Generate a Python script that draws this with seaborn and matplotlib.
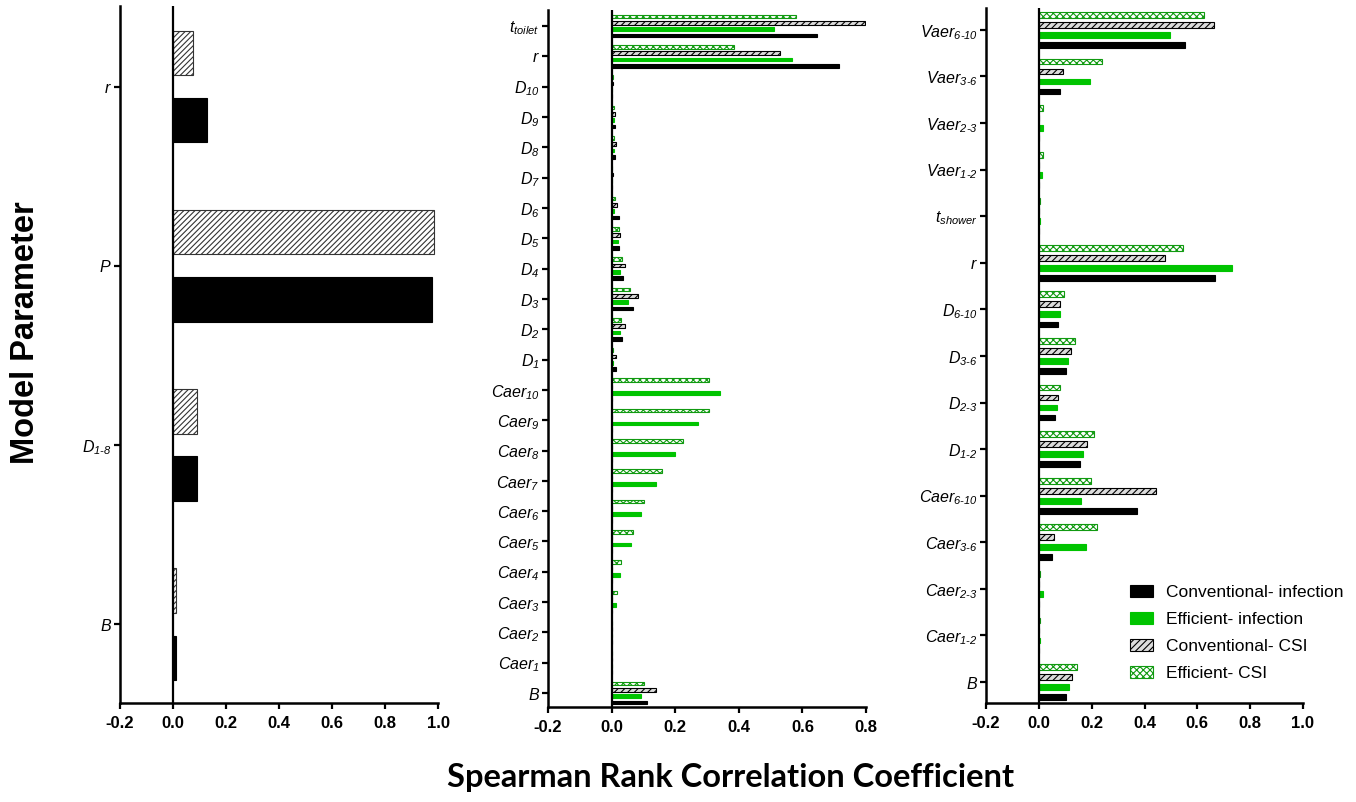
import matplotlib
matplotlib.use("Agg")
import matplotlib.pyplot as plt
import matplotlib.patches as mpatches
import seaborn as sns
import pandas as pd

# ---------------- data ----------------
series_names = ["Efficient- CSI", "Conventional- CSI", "Efficient- infection", "Conventional- infection"]

left_params = ["r", "P", "D1-8", "B"]
left_labels = [r"$r$", r"$P$", r"$D_{1\text{-}8}$", r"$B$"]
left_conv_inf = [0.128, 0.977, 0.090, 0.010]
left_conv_csi = [0.075, 0.985, 0.090, 0.012]

mid_params = ["t_toilet", "r", "D10", "D9", "D8", "D7", "D6", "D5", "D4", "D3", "D2", "D1",
              "Caer10", "Caer9", "Caer8", "Caer7", "Caer6", "Caer5", "Caer4", "Caer3", "Caer2", "Caer1", "B"]
mid_labels = [r"$t_{toilet}$", r"$r$", r"$D_{10}$", r"$D_{9}$", r"$D_{8}$", r"$D_{7}$", r"$D_{6}$",
              r"$D_{5}$", r"$D_{4}$", r"$D_{3}$", r"$D_{2}$", r"$D_{1}$",
              r"$Caer_{10}$", r"$Caer_{9}$", r"$Caer_{8}$", r"$Caer_{7}$", r"$Caer_{6}$", r"$Caer_{5}$",
              r"$Caer_{4}$", r"$Caer_{3}$", r"$Caer_{2}$", r"$Caer_{1}$", r"$B$"]
mid_conv_inf = [0.646, 0.715, 0.002, 0.010, 0.011, 0.000, 0.022, 0.022, 0.035, 0.066, 0.032, 0.013,
                0, 0, 0, 0, 0, 0, 0, 0, 0, 0, 0.112]
mid_eff_inf = [0.512, 0.566, 0.001, 0.008, 0.006, 0.000, 0.009, 0.020, 0.027, 0.050, 0.025, 0.003,
               0.342, 0.272, 0.198, 0.139, 0.092, 0.061, 0.027, 0.013, 0, 0, 0.092]
mid_conv_csi = [0.797, 0.530, 0.004, 0.011, 0.013, 0.003, 0.016, 0.027, 0.043, 0.082, 0.041, 0.014,
                0, 0, 0, 0, 0, 0, 0, 0, 0, 0, 0.139]
mid_eff_csi = [0.580, 0.384, 0.004, 0.008, 0.007, 0.000, 0.010, 0.022, 0.032, 0.058, 0.029, 0.003,
               0.305, 0.306, 0.224, 0.158, 0.102, 0.068, 0.029, 0.016, 0, 0, 0.102]

right_params = ["Vaer6-10", "Vaer3-6", "Vaer2-3", "Vaer1-2", "t_shower", "r", "D6-10", "D3-6",
                "D2-3", "D1-2", "Caer6-10", "Caer3-6", "Caer2-3", "Caer1-2", "B"]
right_labels = [r"$Vaer_{6\text{-}10}$", r"$Vaer_{3\text{-}6}$", r"$Vaer_{2\text{-}3}$", r"$Vaer_{1\text{-}2}$",
                r"$t_{shower}$", r"$r$", r"$D_{6\text{-}10}$", r"$D_{3\text{-}6}$", r"$D_{2\text{-}3}$",
                r"$D_{1\text{-}2}$", r"$Caer_{6\text{-}10}$", r"$Caer_{3\text{-}6}$", r"$Caer_{2\text{-}3}$",
                r"$Caer_{1\text{-}2}$", r"$B$"]
right_conv_inf = [0.552, 0.079, 0, 0, 0, 0.667, 0.072, 0.103, 0.062, 0.155, 0.371, 0.049, 0, 0, 0.102]
right_eff_inf = [0.498, 0.193, 0.014, 0.011, 0.004, 0.733, 0.079, 0.112, 0.068, 0.168, 0.160, 0.178, 0.017, 0.003, 0.116]
right_conv_csi = [0.663, 0.092, 0, 0, 0, 0.477, 0.082, 0.120, 0.071, 0.182, 0.443, 0.057, 0, 0, 0.125]
right_eff_csi = [0.627, 0.238, 0.014, 0.014, 0.005, 0.545, 0.096, 0.136, 0.081, 0.207, 0.197, 0.221, 0.004, 0.004, 0.144]

x_ticks = [-0.2, 0.0, 0.2, 0.4, 0.6, 0.8, 1.0]
x_ticks_mid = [-0.2, 0.0, 0.2, 0.4, 0.6, 0.8]

# ---------------- style ----------------
sns.set_style("ticks")
plt.rcParams["font.family"] = ["Liberation Sans", "DejaVu Sans"]
plt.rcParams["mathtext.fontset"] = "custom"
plt.rcParams["mathtext.it"] = "Liberation Sans:italic"
plt.rcParams["mathtext.rm"] = "Liberation Sans:italic"
plt.rcParams["mathtext.default"] = "it"
plt.rcParams["hatch.linewidth"] = 0.8
for key in ["text.color", "axes.labelcolor", "xtick.color", "ytick.color", "axes.edgecolor"]:
    plt.rcParams[key] = "black"

GREEN = "#00c400"
GREEN_DARK = "#119a11"

styles = {
    "Conventional- infection": dict(facecolor="black", edgecolor="black", hatch=None),
    "Efficient- infection": dict(facecolor=GREEN, edgecolor=GREEN, hatch=None),
    "Conventional- CSI": dict(facecolor="#dcdcdc", edgecolor="black", hatch="/////"),
    "Efficient- CSI": dict(facecolor="white", edgecolor=GREEN_DARK, hatch="xxxxx"),
}
palette = {k: v["facecolor"] for k, v in styles.items()}


def long_df(params, cols):
    rows = []
    for name, vals in cols.items():
        for p, v in zip(params, vals):
            rows.append({"param": p, "series": name, "value": v})
    return pd.DataFrame(rows)


fig = plt.figure(figsize=(13.56, 8.02), dpi=100)
W, H = 1356, 802


def add_ax(x0, x1, ytop, ybot):
    return fig.add_axes([x0 / W, 1 - ybot / H, (x1 - x0) / W, (ybot - ytop) / H])


ax_l = add_ax(120, 438, 6, 703)
ax_m = add_ax(548, 866, 10, 707)
ax_r = add_ax(986, 1303, 8, 703)


def draw(ax, params, labels, cols, hue_order, width, gap, ylim, xlim, xticks, left_style=False):
    df = long_df(params, cols)
    sns.barplot(data=df, x="value", y="param", hue="series", order=params, hue_order=hue_order,
                orient="h", palette=palette, saturation=1, width=width, gap=gap,
                errorbar=None, legend=False, ax=ax)
    for cont, name in zip(ax.containers, hue_order):
        st = styles[name]
        for bar in cont:
            if left_style and name == "Conventional- CSI":
                bar.set_facecolor("white")
                bar.set_edgecolor("#333333")
                bar.set_hatch("//////")
            else:
                bar.set_facecolor(st["facecolor"])
                bar.set_edgecolor(st["edgecolor"])
                if st["hatch"]:
                    bar.set_hatch(st["hatch"])
            bar.set_linewidth(0.8)
    ax.axvline(0, color="black", lw=1.6, zorder=5)
    ax.set_ylim(*ylim)
    ax.set_xlim(*xlim)
    ax.set_xticks(xticks)
    ax.set_xticklabels([f"{t:.1f}" for t in xticks], fontsize=12, fontweight="bold")
    ax.set_yticks(range(len(params)))
    ax.set_yticklabels(labels, fontsize=11.5)
    ax.set_xlabel("")
    ax.set_ylabel("")
    for s in ["top", "right"]:
        ax.spines[s].set_visible(False)
    for s in ["left", "bottom"]:
        ax.spines[s].set_linewidth(1.8)
    ax.tick_params(axis="both", length=4, width=1.6, direction="out", colors="black")
    ax.tick_params(axis="y", pad=2)
    ax.tick_params(axis="x", pad=5)


draw(ax_l, left_params, left_labels,
     {"Conventional- CSI": left_conv_csi, "Conventional- infection": left_conv_inf},
     ["Conventional- CSI", "Conventional- infection"], 0.75, 0.34, (3.44, -0.45), (-0.2, 1.0), x_ticks,
     left_style=True)

draw(ax_m, mid_params, mid_labels,
     {"Efficient- CSI": mid_eff_csi, "Conventional- CSI": mid_conv_csi,
      "Efficient- infection": mid_eff_inf, "Conventional- infection": mid_conv_inf},
     series_names, 0.84, 0.42, (22.46, -0.53), (-0.2, 0.8), x_ticks_mid)

draw(ax_r, right_params, right_labels,
     {"Efficient- CSI": right_eff_csi, "Conventional- CSI": right_conv_csi,
      "Efficient- infection": right_eff_inf, "Conventional- infection": right_conv_inf},
     series_names, 0.86, 0.42, (14.45, -0.47), (-0.2, 1.0), x_ticks)

# legend
leg_order = ["Conventional- infection", "Efficient- infection", "Conventional- CSI", "Efficient- CSI"]
handles = [mpatches.Patch(facecolor=styles[n]["facecolor"], edgecolor=styles[n]["edgecolor"],
                          hatch=styles[n]["hatch"], linewidth=0.8, label=n) for n in leg_order]
fig.legend(handles=handles, loc="upper left", bbox_to_anchor=(1130 / W, 1 - 585 / H),
           frameon=False, fontsize=12.5, handlelength=1.3, handleheight=0.7,
           handletextpad=0.8, labelspacing=0.68, borderpad=0, borderaxespad=0)

# axis titles
fig.text(26 / W, 1 - 333 / H, "Model Parameter", rotation=90, ha="center", va="center",
         fontsize=23.5, fontweight="bold", color="black", family=["Liberation Sans", "DejaVu Sans"])
xt = fig.text(731 / W, 1 - 778 / H, "Spearman Rank Correlation Coefficient", ha="center", va="center",
              fontsize=22, fontweight="bold", color="black", family=["Lato", "DejaVu Sans"])
renderer = fig.canvas.get_renderer()
bw = xt.get_window_extent(renderer).width
xt.set_fontsize(22 * 568 / bw)

fig.savefig("out.png", dpi=100)
